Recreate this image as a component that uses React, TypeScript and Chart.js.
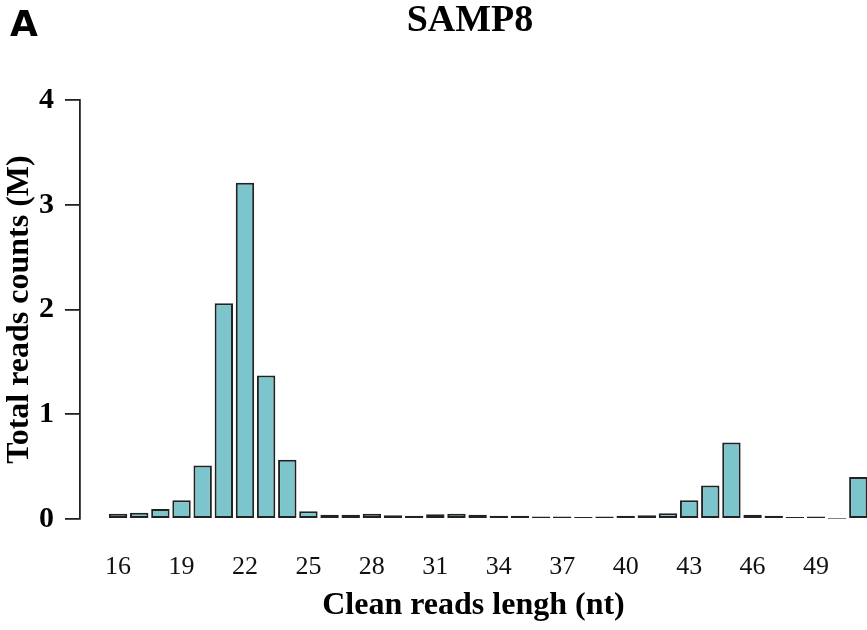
import React, { useEffect, useRef } from "react";
import { Chart, registerables } from "chart.js";

Chart.register(...registerables);

const lengths: number[] = [16, 17, 18, 19, 20, 21, 22, 23, 24, 25, 26, 27, 28, 29, 30, 31, 32, 33, 34, 35, 36, 37, 38, 39, 40, 41, 42, 43, 44, 45, 46, 47, 48, 49, 50, 51];
const readsM: number[] = [0.05, 0.06, 0.095, 0.18, 0.51, 2.06, 3.21, 1.37, 0.566, 0.073, 0.04, 0.04, 0.05, 0.035, 0.03, 0.045, 0.05, 0.04, 0.03, 0.03, 0.025, 0.025, 0.02, 0.025, 0.03, 0.035, 0.055, 0.18, 0.32, 0.73, 0.04, 0.03, 0.02, 0.025, 0.003, 0.40];
const xTickLabels: number[] = [16, 19, 22, 25, 28, 31, 34, 37, 40, 43, 46, 49];
const yTickLabels: number[] = [0, 1, 2, 3, 4];
const chartTitle = "SAMP8";
const panelLabel = "A";
const xTitle = "Clean reads lengh (nt)";
const yTitle = "Total reads counts (M)";

const SERIF = "'Liberation Serif', 'Times New Roman', serif";

export default function App() {
  const ref = useRef<HTMLCanvasElement | null>(null);

  useEffect(() => {
    if (!ref.current) return;
    const textPlugin = {
      id: "textPlugin",
      afterDraw(chart: any) {
        const ctx = chart.ctx;
        ctx.save();
        ctx.fillStyle = "#000";
        ctx.textBaseline = "middle";
        ctx.textAlign = "center";
        ctx.font = `bold 38px ${SERIF}`;
        ctx.fillText(chartTitle, 470, 21);
        ctx.textAlign = "left";
        ctx.font = "bold 36px 'DejaVu Sans', Arial, sans-serif";
        ctx.fillText(panelLabel, 10, 27);
        ctx.restore();
      },
    };
    const chart = new Chart(ref.current, {
      type: "bar",
      data: {
        datasets: [
          {
            data: lengths.map((x, i) => ({ x, y: readsM[i] })),
            backgroundColor: "#7cc5cd",
            borderColor: "#222222",
            borderWidth: 2,
            borderSkipped: false,
            barPercentage: 0.87,
            categoryPercentage: 1,
          },
        ],
      },
      options: {
        animation: false,
        responsive: false,
        layout: { padding: { top: 100, left: 0, right: 0, bottom: 0 } },
        plugins: {
          legend: { display: false },
          title: { display: false },
          tooltip: { enabled: false },
        },
        scales: {
          x: {
            type: "linear",
            min: 14.2,
            max: 51.41,
            offset: false,
            grid: { display: false, drawTicks: false },
            border: { display: false },
            afterBuildTicks: (scale: any) => {
              scale.ticks = xTickLabels.map((v) => ({ value: v }));
            },
            afterFit: (scale: any) => {
              scale.height = 111;
            },
            ticks: {
              autoSkip: false,
              maxRotation: 0,
              padding: 33,
              color: "#111",
              font: { family: SERIF, size: 26, lineHeight: 1.2 },
              callback: (v: any) => String(v),
            },
            title: {
              display: true,
              text: xTitle,
              color: "#000",
              font: { family: SERIF, size: 32, weight: "bold", lineHeight: 1.2 },
              padding: { top: 0, bottom: 5 },
            },
          },
          y: {
            min: 0,
            max: 4,
            afterBuildTicks: (scale: any) => {
              scale.ticks = yTickLabels.map((v) => ({ value: v }));
            },
            afterFit: (scale: any) => {
              scale.width = 80;
            },
            grid: {
              drawOnChartArea: false,
              drawTicks: true,
              tickLength: 15,
              color: "#222",
              lineWidth: 1.8,
            },
            border: { display: true, color: "#222", width: 1.8 },
            ticks: {
              padding: 11,
              color: "#000",
              font: { family: SERIF, size: 30, weight: "bold", lineHeight: 1.2 },
              callback: (v: any) => String(v),
            },
            title: {
              display: true,
              text: yTitle,
              color: "#000",
              font: { family: SERIF, size: 32, weight: "bold", lineHeight: 1.2 },
              padding: { top: 1, bottom: 0 },
            },
          },
        },
      } as any,
      plugins: [textPlugin],
    });
    return () => chart.destroy();
  }, []);

  return (
    <div style={{ position: "absolute", left: 0, top: 0, width: 867, height: 630, background: "#fff" }}>
      <canvas ref={ref} width={867} height={630} style={{ display: "block" }} />
    </div>
  );
}
